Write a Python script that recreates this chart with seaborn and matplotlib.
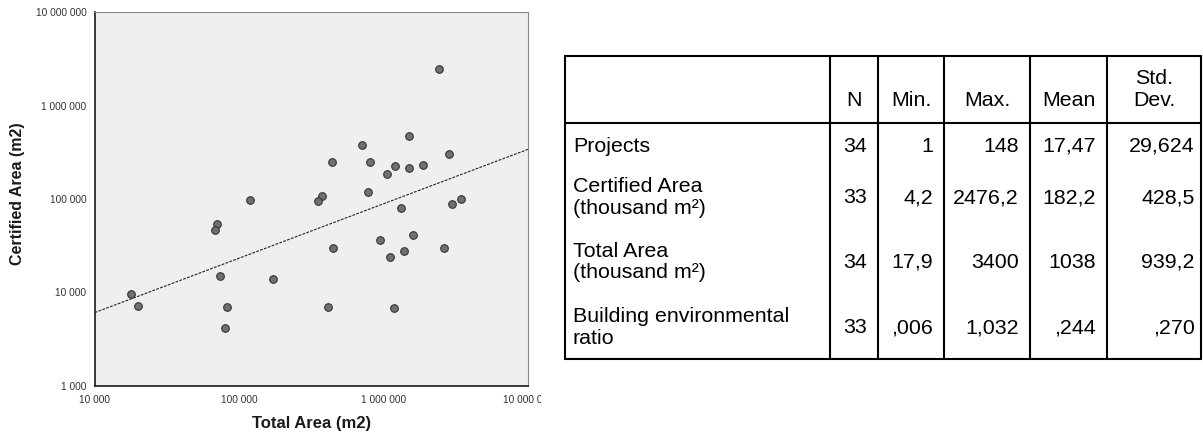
import numpy as np
import pandas as pd
import seaborn as sns
import matplotlib.pyplot as plt
from matplotlib.lines import Line2D
from matplotlib.ticker import FixedLocator, FuncFormatter, NullLocator
from matplotlib.transforms import Bbox, TransformedBbox

# scatter data (m2)
total_area = [17800, 19900, 69800, 68000, 74000, 81800, 80100, 170500, 119500,
              2416000, 1503000, 708000, 2818000, 438000, 800000, 1203000, 1503000,
              1862000, 1059000, 783000, 372000, 351000, 3410000, 2972000, 1318000,
              448000, 948000, 1588000, 1390000, 1101000, 2600000, 409000, 1178000]
certified_area = [9530, 7200, 53400, 46100, 14900, 6960, 4180, 13800, 96600,
                  2476000, 475000, 375000, 307000, 248000, 247000, 226000, 213000,
                  234000, 185000, 119000, 108000, 94200, 99000, 88100, 79300,
                  29600, 36600, 41000, 27900, 23900, 29600, 6900, 6750]
axis_ticks = [1e3, 1e4, 1e5, 1e6, 1e7]

# descriptive statistics table
row_labels = ["Projects", "Certified Area\n(thousand m²)", "Total Area\n(thousand m²)",
              "Building environmental\nratio"]
col_labels = ["N", "Min.", "Max.", "Mean", "Std.\nDev."]
n_vals = ["34", "33", "34", "33"]
min_vals = ["1", "4,2", "17,9", ",006"]
max_vals = ["148", "2476,2", "3400", "1,032"]
mean_vals = ["17,47", "182,2", "1038", ",244"]
std_vals = ["29,624", "428,5", "939,2", ",270"]

sns.set_theme(style="white")
plt.rcParams["font.family"] = ["Liberation Sans", "DejaVu Sans"]

W, H = 1203, 432
fig = plt.figure(figsize=(W / 100, H / 100), dpi=100)

def fx(px):
    return px / W

def fy(py):
    return 1 - py / H

# ---- scatter plot ----
ax = fig.add_axes([fx(94.7), fy(385.7), (528.3 - 94.7) / W, (385.7 - 12.3) / H])
ax.set_facecolor("#eeeff1")
ax.set_xscale("log")
ax.set_yscale("log")

df = pd.DataFrame({"total": total_area, "certified": certified_area})
sns.scatterplot(data=df, x="total", y="certified", ax=ax, s=30, color="#707070",
                edgecolor="#333333", linewidth=0.8, zorder=3, legend=False)

ax.set_xlim(1e4, 1e7)
ax.set_ylim(1e3, 1e7)

# linear fit in log-log space, across the whole x range
slope, icpt = np.polyfit(np.log10(df["total"]), np.log10(df["certified"]), 1)
xs = np.logspace(np.log10(ax.get_xlim()[0]), np.log10(ax.get_xlim()[1]), 60)
ax.plot(xs, 10 ** (icpt + slope * np.log10(xs)), color="#222222", lw=0.8,
        ls=(0, (2.5, 1.2)), zorder=2)

fmt = FuncFormatter(lambda v, p: f"{int(round(v)):,}".replace(",", " "))
ax.xaxis.set_major_locator(FixedLocator(axis_ticks[1:]))
ax.yaxis.set_major_locator(FixedLocator(axis_ticks))
ax.xaxis.set_minor_locator(NullLocator())
ax.yaxis.set_minor_locator(NullLocator())
ax.xaxis.set_major_formatter(fmt)
ax.yaxis.set_major_formatter(fmt)
ax.tick_params(axis="both", which="major", direction="out", length=3.5, width=0.8,
               color="#333333", labelsize=7.3, labelcolor="#333333", pad=2.5)
ax.tick_params(axis="x", pad=3.5)

for side in ["left", "bottom"]:
    ax.spines[side].set_color("#1a1a1a")
    ax.spines[side].set_linewidth(1.2)
for side in ["top", "right"]:
    ax.spines[side].set_color("#8a8a8a")
    ax.spines[side].set_linewidth(0.8)

ax.set_xlabel("Total Area (m2)", fontsize=12, fontweight="bold", color="#1a1a1a")
ax.xaxis.label.set_va("baseline")
ax.xaxis.set_label_coords(0.5, (385.7 - 428.3) / 373.4)
ax.set_ylabel("Certified Area (m2)", fontsize=11.5, fontweight="bold", color="#1a1a1a")
ax.yaxis.label.set_va("center")
ax.yaxis.set_label_coords((18 - 94.7) / 433.6, 0.513)

# the last x tick label is cut off in the original
clip = TransformedBbox(Bbox([[0, 0], [fx(541), 1]]), fig.transFigure)
last_tick = ax.xaxis.get_major_ticks()[-1]
last_tick.label1.set_clip_box(clip)
last_tick.label1.set_clip_on(True)

# ---- table ----
tab_l, tab_r, tab_t, tab_hdr, tab_b = 565, 1201, 56, 123, 359
col_edges = [tab_l, 830, 878, 944, 1030, 1107, tab_r]
tfs = 15.4
lw = 1.5

for py in [tab_t, tab_hdr, tab_b]:
    fig.add_artist(Line2D([fx(tab_l), fx(tab_r)], [fy(py), fy(py)], color="black",
                          lw=lw, transform=fig.transFigure))
for px in col_edges:
    fig.add_artist(Line2D([fx(px), fx(px)], [fy(tab_t), fy(tab_b)], color="black",
                          lw=lw, transform=fig.transFigure))

line_gap = 21.5
hdr_base = 106
for i, lab in enumerate(col_labels):
    cx = (col_edges[i + 1] + col_edges[i + 2]) / 2
    lines = lab.split("\n")
    for k, ln in enumerate(lines):
        yb = hdr_base - (len(lines) - 1 - k) * line_gap
        fig.text(fx(cx), fy(yb), ln, ha="center", va="baseline", fontsize=tfs,
                 color="black")

label_base = [151.5, 192, 257, 322]
value_base = [151.5, 203, 268, 333]
columns = [n_vals, min_vals, max_vals, mean_vals, std_vals]
for r, lab in enumerate(row_labels):
    for k, ln in enumerate(lab.split("\n")):
        fig.text(fx(tab_l + 8), fy(label_base[r] + k * line_gap), ln, ha="left",
                 va="baseline", fontsize=tfs, color="black")
    for c, vals in enumerate(columns):
        right = col_edges[c + 2] - (6 if c == 4 else 11)
        fig.text(fx(right), fy(value_base[r]), vals[r], ha="right", va="baseline",
                 fontsize=tfs, color="black")

fig.savefig("out.png", dpi=100)
